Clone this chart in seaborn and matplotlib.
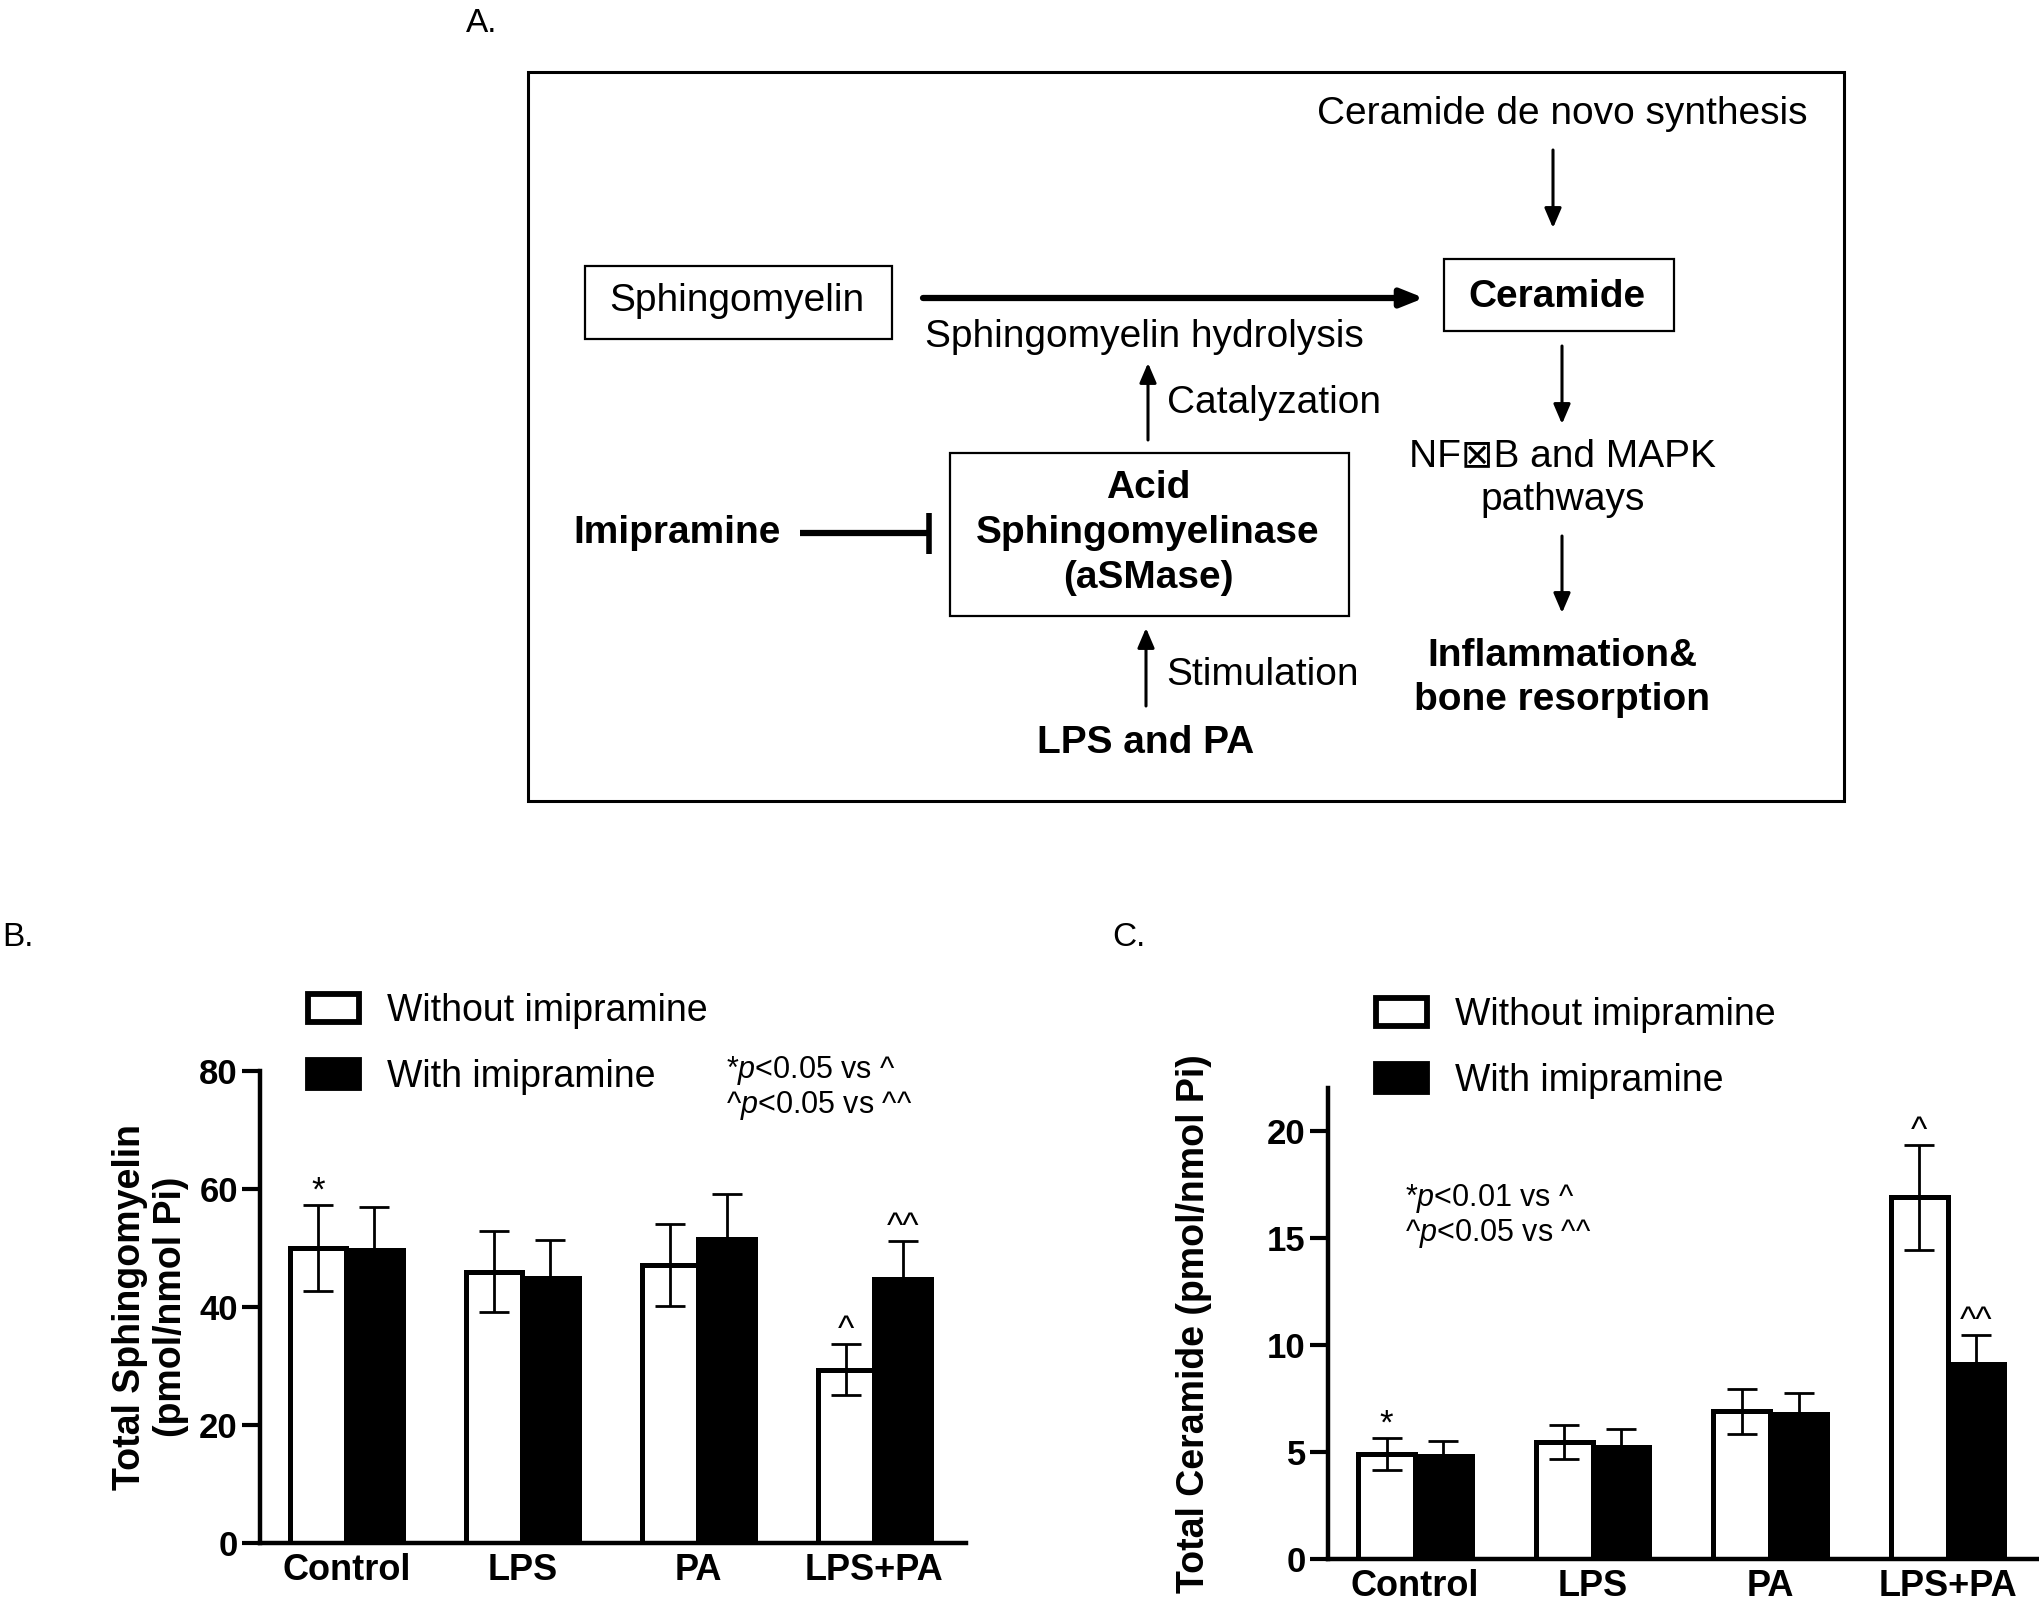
import matplotlib
matplotlib.use("Agg")
import matplotlib.pyplot as plt
import matplotlib.patches as mpatches
import seaborn as sns
import pandas as pd

# data
conditions = ["Control", "LPS", "PA", "LPS+PA"]
groups = ["Without imipramine", "With imipramine"]

sm_without = [50.0, 46.0, 47.1, 29.4]
sm_without_err = [7.3, 6.8, 7.0, 4.3]
sm_with = [49.7, 44.9, 51.6, 44.7]
sm_with_err = [7.2, 6.4, 7.5, 6.5]
sm_marks_without = ["*", "", "", "^"]
sm_marks_with = ["", "", "", "^^"]

cer_without = [4.9, 5.45, 6.9, 16.9]
cer_without_err = [0.75, 0.8, 1.05, 2.45]
cer_with = [4.8, 5.25, 6.75, 9.1]
cer_with_err = [0.7, 0.8, 1.0, 1.35]
cer_marks_without = ["*", "", "", "^"]
cer_marks_with = ["", "", "", "^^"]

W, H = 2040, 1603
sns.set_theme(style="ticks")
plt.rcParams["font.family"] = ["Liberation Sans", "DejaVu Sans"]
plt.rcParams["mathtext.fontset"] = "custom"
plt.rcParams["mathtext.rm"] = "Liberation Sans"
plt.rcParams["mathtext.it"] = "Liberation Sans:italic"
for key in ["text.color", "axes.labelcolor", "xtick.color", "ytick.color",
            "axes.edgecolor"]:
    plt.rcParams[key] = "black"

fig = plt.figure(figsize=(W / 100, H / 100), dpi=100)
fig.patch.set_facecolor("white")

EDGE = 3.6


def bar_panel(ax, without, without_err, with_, with_err, marks_w, marks_i,
              ylim, yticks, ylabel, label_x):
    df = pd.DataFrame({
        "condition": conditions * 2,
        "group": [groups[0]] * 4 + [groups[1]] * 4,
        "value": without + with_,
    })
    sns.barplot(data=df, x="condition", y="value", hue="group",
                order=conditions, hue_order=groups,
                palette=["white", "black"], saturation=1,
                edgecolor="black", linewidth=EDGE, width=0.64,
                errorbar=None, legend=False, ax=ax)
    for cont, means, errs, marks in zip(ax.containers, [without, with_],
                                        [without_err, with_err],
                                        [marks_w, marks_i]):
        xs = [p.get_x() + p.get_width() / 2 for p in cont]
        ax.errorbar(xs, means, yerr=errs, fmt="none", ecolor="black",
                    elinewidth=2.0, capsize=11, capthick=2.0, zorder=4)
        for x, m, e, mk in zip(xs, means, errs, marks):
            if mk:
                ax.annotate(mk, (x, m + e), xytext=(0, 3),
                            textcoords="offset points", ha="center",
                            va="baseline", fontsize=25)
    ax.set_xlim(-0.49, 3.52)
    ax.set_ylim(*ylim)
    ax.set_yticks(yticks)
    ax.set_xlabel("")
    ax.set_ylabel(ylabel, fontsize=27, fontweight="bold", linespacing=1.2)
    ax.yaxis.set_label_coords(label_x, 0.5)
    sns.despine(ax=ax)
    for s in ["left", "bottom"]:
        ax.spines[s].set_linewidth(3.2)
        ax.spines[s].set_color("black")
    ax.tick_params(axis="y", length=13, width=3, pad=3, labelsize=25,
                   color="black")
    ax.tick_params(axis="x", length=0, pad=7, labelsize=26)
    for t in ax.get_xticklabels() + ax.get_yticklabels():
        t.set_fontweight("bold")
        t.set_color("black")
    ax.set_facecolor("none")


def add_legend(ax, x0, y0):
    handles = [mpatches.Patch(facecolor="white", edgecolor="black",
                              linewidth=EDGE + 0.6, label=groups[0]),
               mpatches.Patch(facecolor="black", edgecolor="black",
                              linewidth=EDGE + 0.6, label=groups[1])]
    ax.legend(handles=handles, loc="upper left",
              bbox_to_anchor=(x0 / W, 1 - y0 / H),
              bbox_transform=fig.transFigure, frameon=False, fontsize=27,
              handlelength=1.35, handleheight=0.78, handletextpad=0.75,
              labelspacing=0.8, borderpad=0, borderaxespad=0)


# panel B
axB = fig.add_axes([260 / W, 1 - 1543 / H, 706 / W, 472 / H])
bar_panel(axB, sm_without, sm_without_err, sm_with, sm_with_err,
          sm_marks_without, sm_marks_with, (0, 80), [0, 20, 40, 60, 80],
          "Total Sphingomyelin\n(pmol/nmol Pi)", -0.10)
add_legend(axB, 308, 993)
fig.text(726 / W, 1 - 1088 / H, "*$\\mathit{p}$<0.05 vs ^\n^$\\mathit{p}$<0.05 vs ^^",
         ha="left", va="center", fontsize=22, linespacing=1.05)

# panel C
axC = fig.add_axes([1328 / W, 1 - 1559 / H, 712 / W, 471 / H])
bar_panel(axC, cer_without, cer_without_err, cer_with, cer_with_err,
          cer_marks_without, cer_marks_with, (0, 22), [0, 5, 10, 15, 20],
          "Total Ceramide (pmol/nmol Pi)", -0.163)
add_legend(axC, 1376, 997)
fig.text(1405 / W, 1 - 1216 / H, "*$\\mathit{p}$<0.01 vs ^\n^$\\mathit{p}$<0.05 vs ^^",
         ha="left", va="center", fontsize=22, linespacing=1.05)

# panel letters
fig.text(466 / W, 1 - 23 / H, "A.", fontsize=24, ha="left", va="center")
fig.text(2 / W, 1 - 937 / H, "B.", fontsize=24, ha="left", va="center")
fig.text(1112 / W, 1 - 937 / H, "C.", fontsize=24, ha="left", va="center")

# panel A diagram, drawn in pixel coordinates
dg = fig.add_axes([0, 0, 1, 1], zorder=-1)
dg.set_xlim(0, W)
dg.set_ylim(H, 0)
dg.axis("off")

dg.add_patch(mpatches.Rectangle((528, 72), 1316, 729, fill=False,
                                lw=2.2, ec="black"))
dg.add_patch(mpatches.Rectangle((585, 266), 307, 73, fill=False,
                                lw=1.6, ec="black"))
dg.add_patch(mpatches.Rectangle((1444, 259), 230, 72, fill=False,
                                lw=1.6, ec="black"))
dg.add_patch(mpatches.Rectangle((950, 453), 399, 163, fill=False,
                                lw=1.6, ec="black"))

FS = 28
dg.text(1562, 114, "Ceramide de novo synthesis", fontsize=FS,
        ha="center", va="center")
dg.text(737, 301, "Sphingomyelin", fontsize=FS, ha="center", va="center")
dg.text(1557, 297, "Ceramide", fontsize=FS, fontweight="bold",
        ha="center", va="center")
dg.text(1144, 337, "Sphingomyelin hydrolysis", fontsize=FS,
        ha="center", va="center")
dg.text(1167, 403, "Catalyzation", fontsize=FS, ha="left", va="center")
dg.text(1148, 533, "Acid\nSphingomyelinase\n(aSMase)", fontsize=FS,
        fontweight="bold", ha="center", va="center", linespacing=1.32)
dg.text(677, 533, "Imipramine", fontsize=FS, fontweight="bold",
        ha="center", va="center")
dg.text(1166, 675, "Stimulation", fontsize=FS, ha="left", va="center")
dg.text(1146, 743, "LPS and PA", fontsize=FS, fontweight="bold",
        ha="center", va="center")
dg.text(1563, 478, "NF\u22a0B and MAPK\npathways", fontsize=FS,
        ha="center", va="center", linespacing=1.28)
dg.text(1562, 678, "Inflammation&\nbone resorption", fontsize=FS,
        fontweight="bold", ha="center", va="center", linespacing=1.32)

thin = dict(arrowstyle="-|>,head_length=0.7,head_width=0.3", lw=2.2,
            color="black", mutation_scale=17, shrinkA=0, shrinkB=0)
for (x0, y0), (x1, y1) in [((1553, 150), (1553, 228)),
                           ((1148, 440), (1148, 363)),
                           ((1146, 706), (1146, 628)),
                           ((1562, 346), (1562, 424)),
                           ((1562, 536), (1562, 613))]:
    dg.annotate("", xy=(x1, y1), xytext=(x0, y0), arrowprops=thin)

thick = dict(arrowstyle="-|>,head_length=0.75,head_width=0.3", lw=4.5,
             color="black", mutation_scale=18, shrinkA=0, shrinkB=0)
dg.annotate("", xy=(1424, 298), xytext=(923, 298), arrowprops=thick)

dg.plot([800, 929], [533, 533], color="black", lw=4.5,
        solid_capstyle="butt")
dg.plot([929, 929], [513, 554], color="black", lw=4.0,
        solid_capstyle="butt")

fig.savefig("out.png", dpi=100, facecolor="white")
